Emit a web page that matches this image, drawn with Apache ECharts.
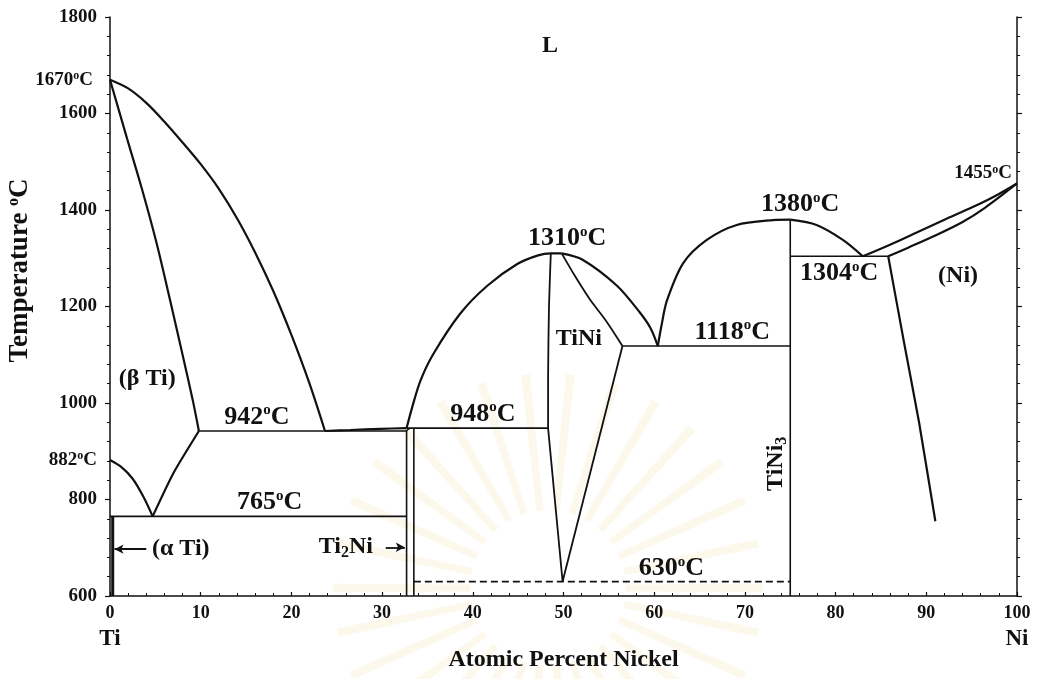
<!DOCTYPE html>
<html>
<head>
<meta charset="utf-8">
<title>Ti–Ni phase diagram</title>
<script src="https://cdn.jsdelivr.net/npm/echarts@6/dist/echarts.min.js"></script>
<style>
  html, body { margin: 0; padding: 0; background: #ffffff; }
  #chart { width: 1042px; height: 679px; }
</style>
</head>
<body>
<div id="chart"></div>
<script>
// ---- Ti–Ni binary phase diagram (composition in at.% Ni, temperature in °C) ----

// axis ticks
const xTicks = [0, 10, 20, 30, 40, 50, 60, 70, 80, 90, 100];
const yTicks = [600, 800, 1000, 1200, 1400, 1600, 1800];

// invariant temperatures, °C
const T_MELT_TI = 1670;
const T_BETA_TRANSUS = 882;
const T_EUTECTIC_TI = 942;
const T_PERITECTIC_TI2NI = 948;
const T_EUTECTOID_TI = 765;
const T_MELT_TINI = 1310;
const T_EUTECTIC_TINI = 1118;
const T_MELT_TINI3 = 1380;
const T_EUTECTIC_NI = 1304;
const T_MELT_NI = 1455;
const T_EUTECTOID_TINI = 630;

// (βTi) liquidus and solidus
const liquidusBetaTi = [[0, T_MELT_TI], [2, 1652], [4, 1622], [6, 1583], [8, 1540], [10, 1495], [12, 1444],
  [14, 1383], [16, 1312], [18, 1232], [20, 1141], [22, 1040], [23.7, T_EUTECTIC_TI]];
const solidusBetaTi = [[0, T_MELT_TI], [1.9, 1547], [3.5, 1445], [5.1, 1334], [6.6, 1215], [8.0, 1100],
  [9.1, 1008], [9.8, T_EUTECTIC_TI]];
// β/α transus and β solvus
const transusBetaTi = [[0, T_BETA_TRANSUS], [1.2, 868], [2.5, 843], [3.7, 805], [4.7, T_EUTECTOID_TI]];
const solvusBetaTi = [[4.7, T_EUTECTOID_TI], [7, 855], [9.8, T_EUTECTIC_TI]];
const solvusAlphaTi = [[0.3, 600], [0.3, T_EUTECTOID_TI]];
// liquidus between the Ti-side eutectic and the Ti2Ni peritectic
const liquidusTi2Ni = [[23.7, T_EUTECTIC_TI], [26.5, 944], [29.8, 946.5], [32.7, T_PERITECTIC_TI2NI]];
// Ti2Ni line compound
const ti2NiLeft = [[32.7, 600], [32.7, T_EUTECTIC_TI], [33.1, T_PERITECTIC_TI2NI]];
const ti2NiRight = [[33.5, T_PERITECTIC_TI2NI], [33.5, 600]];
// TiNi liquidus
const liquidusTiNiLeft = [[32.7, T_PERITECTIC_TI2NI], [33.3, 990], [34.2, 1045], [35.6, 1100], [38.6, 1185],
  [41.6, 1243], [44.9, 1288], [47.2, 1306], [48.6, T_MELT_TINI], [49.8, T_MELT_TINI]];
const liquidusTiNiRight = [[49.8, T_MELT_TINI], [52.1, 1297], [55.9, 1243], [58.4, 1188], [59.6, 1155],
  [60.4, T_EUTECTIC_TINI]];
// TiNi phase field
const tiNiLeftUpper = [[48.6, T_MELT_TINI], [48.4, 1200], [48.3, 1050], [48.3, T_PERITECTIC_TI2NI]];
const tiNiLeftLower = [[48.3, T_PERITECTIC_TI2NI], [49.9, T_EUTECTOID_TINI]];
const tiNiRightUpper = [[49.8, T_MELT_TINI], [51.3, 1262], [52.9, 1215], [54.7, 1170], [56.5, T_EUTECTIC_TINI]];
const tiNiRightLower = [[56.5, T_EUTECTIC_TINI], [49.9, T_EUTECTOID_TINI]];
// TiNi3 liquidus and line compound
const liquidusTiNi3Left = [[60.4, T_EUTECTIC_TINI], [60.8, 1160], [61.4, 1212], [63.2, 1290], [65.8, 1338],
  [69.1, 1369], [73.1, 1379], [75, T_MELT_TINI3]];
const liquidusTiNi3Right = [[75, T_MELT_TINI3], [77.9, 1369], [80.8, 1338], [83, T_EUTECTIC_NI]];
const tiNi3Line = [[75, 600], [75, T_MELT_TINI3]];
// (Ni) liquidus, solidus and solvus
const liquidusNi = [[83, T_EUTECTIC_NI], [86, 1328], [89, 1354], [92, 1380], [95, 1405], [97.5, 1428], [100, T_MELT_NI]];
const solidusNi = [[85.8, T_EUTECTIC_NI], [88, 1322], [91, 1347], [94, 1375], [96.5, 1405], [100, T_MELT_NI]];
const solvusNi = [[85.8, T_EUTECTIC_NI], [87.5, 1130], [89.2, 960], [91, 755]];

// horizontal invariant lines: [temperature, from x, to x]
const isoEutecticTi = [T_EUTECTIC_TI, 9.8, 32.7];
const isoPeritecticTi2Ni = [T_PERITECTIC_TI2NI, 32.7, 48.3];
const isoEutectoidTi = [T_EUTECTOID_TI, 0, 32.7];
const isoEutecticTiNi = [T_EUTECTIC_TINI, 56.5, 75];
const isoEutecticNi = [T_EUTECTIC_NI, 75, 85.8];
const isoEutectoidTiNi = [T_EUTECTOID_TINI, 33.5, 75];

// ---- drawing ----
const SERIF = '"Liberation Serif", "Times New Roman", serif';
const INK = '#111111';

function boundary(data, width, smooth) {
  return {
    type: 'line', data: data, symbol: 'none', silent: true, animation: false,
    smooth: smooth === undefined ? 0.3 : smooth,
    lineStyle: { color: INK, width: width || 2 }, z: 3
  };
}
function isotherm(iso, width, dashed) {
  return {
    type: 'line', data: [[iso[1], iso[0]], [iso[2], iso[0]]], symbol: 'none', silent: true, animation: false,
    lineStyle: { color: INK, width: width || 1.6, type: dashed ? [7, 4] : 'solid' }, z: 3
  };
}

const bigRich = {
  n: { fontFamily: SERIF, fontSize: 26, fontWeight: 'bold', color: INK, lineHeight: 28 },
  o: { fontFamily: SERIF, fontSize: 15, fontWeight: 'bold', color: INK, lineHeight: 12, verticalAlign: 'top' }
};
const smallRich = {
  n: { fontFamily: SERIF, fontSize: 19, fontWeight: 'bold', color: INK, lineHeight: 20 },
  o: { fontFamily: SERIF, fontSize: 12, fontWeight: 'bold', color: INK, lineHeight: 8, verticalAlign: 'top' }
};
const phaseRich = {
  n: { fontFamily: SERIF, fontSize: 24, fontWeight: 'bold', color: INK, lineHeight: 28 },
  d: { fontFamily: SERIF, fontSize: 16, fontWeight: 'bold', color: INK, lineHeight: 18, verticalAlign: 'bottom' }
};

function tempText(t) { return '{n|' + t + '}{o|o}{n|C}'; }

const labelBase = { show: true, color: INK, opacity: 1, textBorderWidth: 0, textShadowBlur: 0 };

// temperature annotations, placed at the value they name
function tempLabel(x, t, opts) {
  return {
    value: [x, t],
    label: Object.assign({}, labelBase, {
      formatter: tempText(t), position: opts.pos || 'top', distance: opts.dist || 0,
      offset: opts.offset || [0, 0], rich: opts.small ? smallRich : bigRich
    })
  };
}
function phaseLabel(x, y, text, rotate) {
  return {
    value: [x, y],
    label: Object.assign({}, labelBase, {
      formatter: text, position: 'inside', rotate: rotate || 0, rich: phaseRich
    })
  };
}

const annotations = [
  tempLabel(0, T_MELT_TI, { small: true, pos: 'left', dist: 17 }),
  tempLabel(0, T_BETA_TRANSUS, { small: true, pos: 'left', dist: 13 }),
  tempLabel(100, T_MELT_NI, { small: true, pos: 'left', dist: 5, offset: [0, -10] }),
  tempLabel(16.2, T_EUTECTIC_TI, { dist: 0 }),
  tempLabel(17.6, T_EUTECTOID_TI, { dist: 0 }),
  tempLabel(41.1, T_PERITECTIC_TI2NI, { dist: 0 }),
  tempLabel(61.9, T_EUTECTOID_TINI, { dist: -1 }),
  tempLabel(68.6, T_EUTECTIC_TINI, { dist: 0 }),
  tempLabel(80.4, T_EUTECTIC_NI, { pos: 'bottom', dist: 3 }),
  tempLabel(50.4, T_MELT_TINI, { dist: 1 }),
  tempLabel(76.1, T_MELT_TINI3, { dist: 1 }),
  phaseLabel(48.5, 1740, '{n|L}'),
  phaseLabel(4.1, 1050, '{n|(β Ti)}'),
  phaseLabel(7.8, 697, '{n|(α Ti)}'),
  phaseLabel(26.0, 701, '{n|Ti}{d|2}{n|Ni}'),
  phaseLabel(51.7, 1133, '{n|TiNi}'),
  phaseLabel(93.5, 1263, '{n|(Ni)}'),
  phaseLabel(73.4, 874, '{n|TiNi}{d|3}', 90)
];

// watermark behind the plot: faint sunburst
function sunburst(cx, cy) {
  const rays = [];
  const n = 30, r1 = 78, r2 = 215;
  for (let i = 0; i < n; i++) {
    const a = (i / n) * Math.PI * 2;
    const w = 0.045;
    const p = [
      [cx + r1 * Math.cos(a - w), cy + r1 * Math.sin(a - w)],
      [cx + r2 * Math.cos(a - w * 0.45), cy + r2 * Math.sin(a - w * 0.45)],
      [cx + r2 * Math.cos(a + w * 0.45), cy + r2 * Math.sin(a + w * 0.45)],
      [cx + r1 * Math.cos(a + w), cy + r1 * Math.sin(a + w)]
    ];
    rays.push({
      type: 'polygon', silent: true, z: -10,
      shape: { points: p },
      style: { fill: 'rgba(240, 214, 140, 0.17)' }
    });
  }
  return rays;
}

const chart = echarts.init(document.getElementById('chart'));

const axisCommon = {
  type: 'value', min: 600, max: 1800, interval: 200,
  axisLine: { show: true, lineStyle: { color: INK, width: 1.5 } },
  axisTick: { show: true, length: 5, lineStyle: { color: INK, width: 1.2 } },
  minorTick: { show: true, splitNumber: 5, length: 3, lineStyle: { color: INK, width: 1 } },
  splitLine: { show: false }, minorSplitLine: { show: false }
};

chart.setOption({
  animation: false,
  backgroundColor: '#ffffff',
  grid: { left: 110, right: 25, top: 17, bottom: 83, containLabel: false, outerBoundsMode: 'none' },
  graphic: sunburst(548, 588),
  xAxis: {
    type: 'value', min: xTicks[0], max: xTicks[xTicks.length - 1], interval: 10,
    axisLine: { show: true, onZero: false, lineStyle: { color: INK, width: 1.5 } },
    axisTick: { show: true, inside: true, length: 4, lineStyle: { color: INK, width: 1.2 } },
    minorTick: { show: true, splitNumber: 5, length: 3, lineStyle: { color: INK } },
    splitLine: { show: false }, minorSplitLine: { show: false },
    axisLabel: {
      fontFamily: SERIF, fontWeight: 'bold', fontSize: 18, color: INK, margin: 7, lineHeight: 20,
      formatter: function (v) {
        if (v === 0) return '{v|0}\n{e|Ti}';
        if (v === 100) return '{v|100}\n{e|Ni}';
        return String(v);
      },
      rich: {
        v: { fontFamily: SERIF, fontWeight: 'bold', fontSize: 18, color: INK, lineHeight: 20 },
        e: { fontFamily: SERIF, fontWeight: 'bold', fontSize: 23, color: INK, lineHeight: 32 }
      }
    },
    name: 'Atomic Percent Nickel', nameLocation: 'middle', nameGap: 52, nameMoveOverlap: false,
    nameTextStyle: { fontFamily: SERIF, fontWeight: 'bold', fontSize: 24, color: INK }
  },
  yAxis: [
    Object.assign({}, axisCommon, {
      position: 'left',
      axisLabel: {
        fontFamily: SERIF, fontWeight: 'bold', fontSize: 19, color: INK, margin: 13,
        formatter: function (v) { return yTicks.indexOf(v) >= 0 ? String(v) : ''; }
      },
      name: '{a|Temperature }{o|o}{a|C}', nameLocation: 'middle', nameRotate: 90, nameGap: 76,
      nameMoveOverlap: false,
      nameTextStyle: {
        padding: [0, 0, 0, 72],
        rich: {
          a: { fontFamily: SERIF, fontWeight: 'bold', fontSize: 27, color: INK, lineHeight: 28 },
          o: { fontFamily: SERIF, fontWeight: 'bold', fontSize: 16, color: INK, lineHeight: 12, verticalAlign: 'top' }
        }
      }
    }),
    Object.assign({}, axisCommon, {
      position: 'right',
      axisLabel: { show: false }
    })
  ],
  series: [
    boundary(liquidusBetaTi, 2.2),
    boundary(solidusBetaTi, 2.2),
    boundary(transusBetaTi, 2.2),
    boundary(solvusBetaTi, 2.2, 0.2),
    boundary(solvusAlphaTi, 3, false),
    boundary(liquidusTi2Ni, 2.2),
    boundary(ti2NiLeft, 1.6, 0.2),
    boundary(ti2NiRight, 1.6, false),
    boundary(liquidusTiNiLeft, 2.2),
    boundary(liquidusTiNiRight, 2.2),
    boundary(tiNiLeftUpper, 1.8, 0.2),
    boundary(tiNiLeftLower, 1.8, false),
    boundary(tiNiRightUpper, 1.8, 0.3),
    boundary(tiNiRightLower, 1.8, false),
    boundary(liquidusTiNi3Left, 2.2),
    boundary(liquidusTiNi3Right, 2.2),
    boundary(tiNi3Line, 1.6, false),
    boundary(liquidusNi, 2.2),
    boundary(solidusNi, 2.2),
    boundary(solvusNi, 2.2, 0.1),
    isotherm(isoEutecticTi),
    isotherm(isoPeritecticTi2Ni),
    isotherm(isoEutectoidTi),
    isotherm(isoEutecticTiNi),
    isotherm(isoEutecticNi),
    isotherm(isoEutectoidTiNi, 1.8, true),
    {
      type: 'scatter', data: annotations, symbolSize: 0, silent: true, animation: false,
      itemStyle: { color: INK, opacity: 1 }, z: 5,
      markLine: {
        silent: true, animation: false, symbol: ['none', 'arrow'], symbolSize: [7, 9],
        label: { show: false },
        lineStyle: { color: INK, width: 1.8, type: 'solid' },
        data: [
          [{ coord: [4.0, 697] }, { coord: [0.5, 697] }],
          [{ coord: [30.4, 701] }, { coord: [32.5, 701] }]
        ]
      }
    }
  ]
});
</script>
</body>
</html>
